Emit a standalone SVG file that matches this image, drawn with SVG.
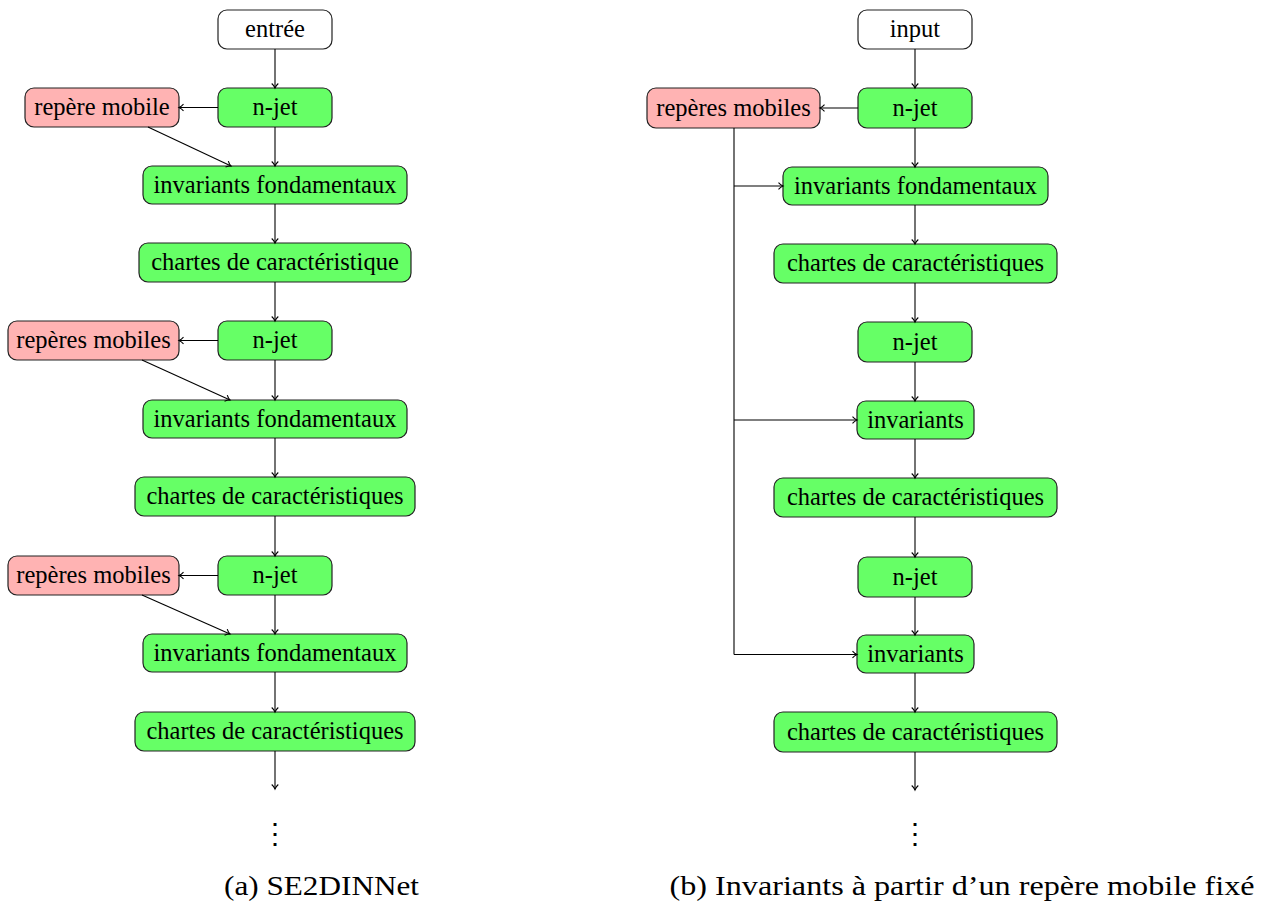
<svg xmlns="http://www.w3.org/2000/svg" width="1264" height="909" viewBox="0 0 1264 909">
<style>
.n{stroke:#222;stroke-width:1.2}
.w{fill:#ffffff}
.g{fill:#66ff66}
.r{fill:#ffb3b3}
.t{font-family:'Liberation Serif','DejaVu Serif','Times New Roman',serif;font-size:24.5px;fill:#000;text-anchor:middle}
.cap{font-family:'Liberation Serif','DejaVu Serif','Times New Roman',serif;font-size:28px;fill:#000;text-anchor:middle}
.c{stroke:#000;stroke-width:1.1;fill:none;marker-end:url(#ah)}
.l{stroke:#000;stroke-width:1.1;fill:none}
.d{font-family:'DejaVu Serif',serif;font-size:28px;fill:#000;text-anchor:middle}
</style>
<defs>
<marker id="ah" markerUnits="userSpaceOnUse" markerWidth="12" markerHeight="12" viewBox="-6 -6 12 12" refX="0" refY="0" orient="auto" overflow="visible">
<path d="M-4.5,-3.3 C-3,-1.6 -1,-0.4 0,0 C-1,0.4 -3,1.6 -4.5,3.3" fill="none" stroke="#000" stroke-width="1.1"/>
</marker>
</defs>

<g id="left">
<g id="a_input"><rect class="n w" x="218" y="10" width="114" height="39" rx="9"/><text class="t" x="275" y="37">entrée</text></g>
<g id="a_njet1"><rect class="n g" x="218" y="88" width="114" height="39" rx="9"/><text class="t" x="275" y="115">n-jet</text></g>
<g id="a_rm1"><rect class="n r" x="25" y="88" width="154" height="39" rx="9"/><text class="t" x="102" y="115">repère mobile</text></g>
<g id="a_if1"><rect class="n g" x="143" y="166" width="264" height="38" rx="9"/><text class="t" x="275" y="192.5">invariants fondamentaux</text></g>
<g id="a_cc1"><rect class="n g" x="139" y="243" width="272" height="39" rx="9"/><text class="t" x="275" y="270">chartes de caractéristique</text></g>
<g id="a_njet2"><rect class="n g" x="218" y="321" width="114" height="39" rx="9"/><text class="t" x="275" y="348">n-jet</text></g>
<g id="a_rm2"><rect class="n r" x="8" y="321" width="171" height="39" rx="9"/><text class="t" x="93.5" y="348">repères mobiles</text></g>
<g id="a_if2"><rect class="n g" x="143" y="400" width="264" height="38" rx="9"/><text class="t" x="275" y="426.5">invariants fondamentaux</text></g>
<g id="a_cc2"><rect class="n g" x="135" y="477" width="280" height="39" rx="9"/><text class="t" x="275" y="504">chartes de caractéristiques</text></g>
<g id="a_njet3"><rect class="n g" x="218" y="556" width="114" height="39" rx="9"/><text class="t" x="275" y="583">n-jet</text></g>
<g id="a_rm3"><rect class="n r" x="8" y="556" width="171" height="39" rx="9"/><text class="t" x="93.5" y="583">repères mobiles</text></g>
<g id="a_if3"><rect class="n g" x="143" y="634" width="264" height="38" rx="9"/><text class="t" x="275" y="660.5">invariants fondamentaux</text></g>
<g id="a_cc3"><rect class="n g" x="135" y="712" width="280" height="39" rx="9"/><text class="t" x="275" y="739">chartes de caractéristiques</text></g>
<text id="a_dots" class="d" x="275" y="843">⋮</text>
<text id="a_caption" class="cap" x="321.5" y="895" textLength="195" lengthAdjust="spacingAndGlyphs">(a) SE2DINNet</text>
</g>

<g id="right">
<g id="b_input"><rect class="n w" x="858" y="10" width="114" height="39" rx="9"/><text class="t" x="915" y="37">input</text></g>
<g id="b_njet1"><rect class="n g" x="858" y="88" width="114" height="40" rx="9"/><text class="t" x="915" y="115.5">n-jet</text></g>
<g id="b_rm"><rect class="n r" x="647" y="88" width="173" height="40" rx="9"/><text class="t" x="733.5" y="115.5">repères mobiles</text></g>
<g id="b_if"><rect class="n g" x="783" y="167" width="265" height="38" rx="9"/><text class="t" x="915.5" y="193.5">invariants fondamentaux</text></g>
<g id="b_cc1"><rect class="n g" x="774" y="244" width="283" height="39" rx="9"/><text class="t" x="915.5" y="271">chartes de caractéristiques</text></g>
<g id="b_njet2"><rect class="n g" x="858" y="322" width="114" height="40" rx="9"/><text class="t" x="915" y="349.5">n-jet</text></g>
<g id="b_inv1"><rect class="n g" x="857" y="401" width="117" height="38" rx="9"/><text class="t" x="915.5" y="427.5">invariants</text></g>
<g id="b_cc2"><rect class="n g" x="774" y="478" width="283" height="39" rx="9"/><text class="t" x="915.5" y="505">chartes de caractéristiques</text></g>
<g id="b_njet3"><rect class="n g" x="858" y="557" width="114" height="40" rx="9"/><text class="t" x="915" y="584.5">n-jet</text></g>
<g id="b_inv2"><rect class="n g" x="857" y="635" width="117" height="38" rx="9"/><text class="t" x="915.5" y="661.5">invariants</text></g>
<g id="b_cc3"><rect class="n g" x="774" y="712" width="283" height="40" rx="9"/><text class="t" x="915.5" y="739.5">chartes de caractéristiques</text></g>
<text id="b_dots" class="d" x="915" y="843">⋮</text>
<text id="b_caption" class="cap" x="962" y="895" textLength="585" lengthAdjust="spacingAndGlyphs">(b) Invariants à partir d’un repère mobile fixé</text>
</g>

<g id="connectors">
<path class="c" d="M275,49 V88"/>
<path class="c" d="M218,107.5 H179"/>
<path class="c" d="M275,127 V166"/>
<path class="c" d="M148,127 L231,166"/>
<path class="c" d="M275,204 V243"/>
<path class="c" d="M275,282 V321"/>
<path class="c" d="M218,340.5 H179"/>
<path class="c" d="M275,360 V400"/>
<path class="c" d="M142,360 L230,400"/>
<path class="c" d="M275,438 V477"/>
<path class="c" d="M275,516 V556"/>
<path class="c" d="M218,575.5 H179"/>
<path class="c" d="M275,595 V634"/>
<path class="c" d="M142,595 L230,634"/>
<path class="c" d="M275,672 V712"/>
<path class="c" d="M275,751 V789"/>

<path class="c" d="M915,49 V88"/>
<path class="c" d="M858,108 H820"/>
<path class="c" d="M915,128 V167"/>
<path class="c" d="M915,205 V244"/>
<path class="c" d="M915,283 V322"/>
<path class="c" d="M915,362 V401"/>
<path class="c" d="M915,439 V478"/>
<path class="c" d="M915,517 V557"/>
<path class="c" d="M915,597 V635"/>
<path class="c" d="M915,673 V712"/>
<path class="c" d="M915,752 V790"/>
<path class="l" d="M734,128 V654.5"/>
<path class="c" d="M734,186 H783"/>
<path class="c" d="M734,420 H857"/>
<path class="c" d="M734,654.5 H857"/>
</g>
</svg>
